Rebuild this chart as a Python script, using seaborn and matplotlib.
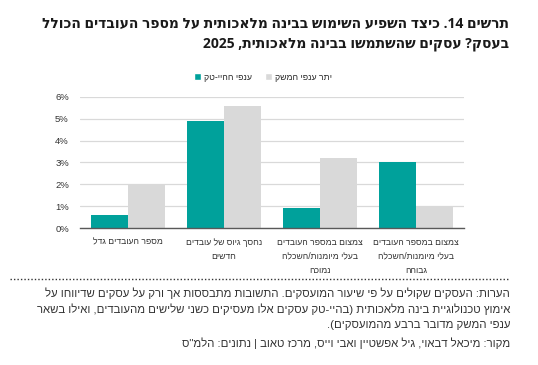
import re
import matplotlib
matplotlib.use("Agg")
import matplotlib.pyplot as plt
import seaborn as sns
import pandas as pd
from matplotlib.patches import Patch
from matplotlib.lines import Line2D

# ---------------- data ----------------
categories = [
    "מספר העובדים גדל",
    "נחסך גיוס של עובדים\nחדשים",
    "צמצום במספר העובדים\nבעלי מיומנות/השכלה\nנמוכה",
    "צמצום במספר העובדים\nבעלי מיומנות/השכלה\nגבוהה",
]
series_names = ["ענפי ההיי-טק", "יתר ענפי המשק"]
hitech_values = [0.6, 4.9, 0.9, 3.0]
other_values = [2.0, 5.6, 3.2, 1.0]
y_ticks = [0, 1, 2, 3, 4, 5, 6]

title_lines = [
    "תרשים 14. כיצד השפיע השימוש בבינה מלאכותית על מספר העובדים הכולל",
    "בעסק? עסקים שהשתמשו בבינה מלאכותית, 2025",
]
note_lines = [
    "הערות: העסקים שקולים על פי שיעור המועסקים. התשובות מתבססות אך ורק על עסקים שדיווחו על",
    "אימוץ טכנולוגיית בינה מלאכותית (בהיי-טק עסקים אלו מעסיקים כשני שלישים מהעובדים, ואילו בשאר",
    "ענפי המשק מדובר ברבע מהמועסקים).",
]
source_line = "מקור: מיכאל דבאוי, גיל אפשטיין ואבי וייס, מרכז טאוב | נתונים: הלמ\"ס"

TEAL = "#00A19B"
GRAY = "#D9D9D9"

# -------- simple visual reordering for RTL text --------
_MIRROR = str.maketrans("()[]", ")(][")
_LTR = re.compile(r"[0-9A-Za-z]+(?:[.,%][0-9A-Za-z]+)*%?")


def vis(s):
    out_lines = []
    for line in s.split("\n"):
        tokens = []
        pos = 0
        for m in _LTR.finditer(line):
            if m.start() > pos:
                tokens.append(("r", line[pos:m.start()]))
            tokens.append(("l", m.group()))
            pos = m.end()
        if pos < len(line):
            tokens.append(("r", line[pos:]))
        parts = []
        for kind, t in reversed(tokens):
            if kind == "r":
                parts.append(t[::-1].translate(_MIRROR))
            else:
                parts.append(t)
        out_lines.append("".join(parts))
    return "\n".join(out_lines)


# ---------------- plot ----------------
sns.set_theme(style="white")
plt.rcParams["font.family"] = ["Liberation Sans", "DejaVu Sans"]

df = pd.DataFrame({
    "cat": [vis(c) for c in categories] * 2,
    "series": [series_names[0]] * len(categories) + [series_names[1]] * len(categories),
    "val": hitech_values + other_values,
})

fig = plt.figure(figsize=(5.38, 3.65), dpi=100)
ax = fig.add_axes([80 / 538, 1 - 228 / 365, 384 / 538, 131 / 365])

sns.barplot(
    data=df, x="cat", y="val", hue="series",
    order=[vis(c) for c in categories], hue_order=series_names,
    palette=[TEAL, GRAY], width=0.77, gap=0.02, saturation=1,
    linewidth=0, legend=False, ax=ax,
)

ax.set_ylim(0, 6)
ax.set_xlim(-0.5, 3.5)
ax.set_yticks(y_ticks)
ax.set_yticklabels([f"{t}%" for t in y_ticks], fontsize=6.8, color="#333333")
ax.set_xlabel("")
ax.set_ylabel("")
ax.yaxis.grid(True, color="#D9D9D9", linewidth=0.9)
ax.set_axisbelow(True)
for sp in ["left", "right", "top"]:
    ax.spines[sp].set_visible(False)
ax.spines["bottom"].set_color("#595959")
ax.spines["bottom"].set_linewidth(1.0)
ax.tick_params(axis="y", length=0, pad=8)
ax.tick_params(axis="x", length=0, pad=7)
for lab in ax.get_xticklabels():
    lab.set_fontsize(6.2)
    lab.set_color("#333333")
    lab.set_linespacing(1.7)
    lab.set_verticalalignment("top")

# title
title_font = ["Open Sans", "DejaVu Sans"]
fig.text(509 / 538, 1 - 24 / 365, vis(title_lines[0]), ha="right", va="center",
         fontsize=10, fontweight="bold", family=title_font, color="#1a1a1a")
fig.text(509 / 538, 1 - 44 / 365, vis(title_lines[1]), ha="right", va="center",
         fontsize=10, fontweight="bold", family=title_font, color="#1a1a1a")

# legend
handles = [Patch(facecolor=TEAL), Patch(facecolor=GRAY)]
fig.legend(handles, [vis(n) for n in series_names], loc="center",
           bbox_to_anchor=(263 / 538, 1 - 77 / 365), ncol=2, frameon=False,
           fontsize=6.3, handlelength=0.8, handleheight=1.0,
           handletextpad=0.35, columnspacing=1.5, borderpad=0)

# dotted separator
fig.add_artist(Line2D([10 / 538, 510 / 538], [1 - 279 / 365, 1 - 279 / 365],
                      transform=fig.transFigure, color="#333333",
                      linestyle=(0, (1, 1.5)), linewidth=1.0))

# notes
note_y = [293, 309, 325]
for y, line in zip(note_y, note_lines):
    fig.text(510 / 538, 1 - y / 365, vis(line), ha="right", va="center",
             fontsize=8.2, color="#333333")
fig.text(510 / 538, 1 - 343 / 365, vis(source_line), ha="right", va="center",
         fontsize=8.2, color="#333333")

fig.savefig("out.png", dpi=100, facecolor="white")
